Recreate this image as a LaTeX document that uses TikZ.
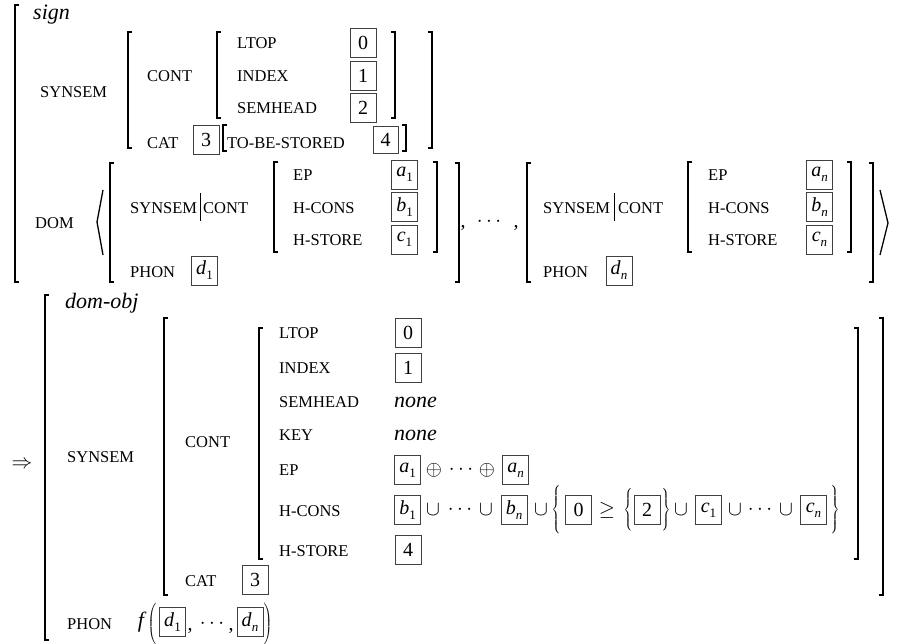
\documentclass[tikz,border=0pt]{standalone}
\usepackage{fontspec}
\setmainfont{Liberation Serif}
\usepackage{graphicx}
\tikzset{
  brk/.style={line width=1.3pt},
  barline/.style={line width=0.8pt},
  lab/.style={anchor=west, inner sep=0pt, font=\fontsize{16.5}{16.5}\selectfont},
  typ/.style={inner sep=0pt, font=\fontsize{22}{22}\selectfont\itshape},
  tag/.style={draw=black!75, line width=0.7pt, minimum width=26pt, minimum height=29pt, inner sep=0pt, font=\fontsize{20}{20}\selectfont},
  sym/.style={inner sep=0pt, font=\fontsize{20}{20}\selectfont},
}
\newcommand\Lbr[3]{\draw[brk] ({#1+4},#2) -- (#1,#2) -- (#1,#3) -- ({#1+4},#3);}
\newcommand\Rbr[3]{\draw[brk] ({#1-4},#2) -- (#1,#2) -- (#1,#3) -- ({#1-4},#3);}
\newcommand\sv[2]{\textit{#1}\raisebox{-0.25em}{\fontsize{13}{13}\selectfont #2}}
\newcommand\dlm[2]{$\nulldelimiterspace=0pt\left#1\vrule height #2 depth #2 width 0pt\right.$}
\begin{document}
\begin{tikzpicture}[x=1pt,y=-1pt]
\useasboundingbox (0,0) rectangle (901,644);
% ================= first AVM (sign) =================
\Lbr{15}{5}{282}
\node[typ, anchor=base west] (sign) at (33,20) {sign};
\node[lab] (ss1) at (40,92) {SYNSEM};
\Lbr{128}{32}{148} \Rbr{432}{32}{148}
\node[lab] (cont1) at (147,76) {CONT};
\Lbr{217}{32}{118} \Rbr{395}{32}{118}
\node[lab] (ltop1) at (237,43) {LTOP};
\node[lab] (index1) at (237,76) {INDEX};
\node[lab] (semh1) at (237,108) {SEMHEAD};
\node[tag] (t0a) at (363,43) {0};
\node[tag] (t1a) at (363,76) {1};
\node[tag] (t2a) at (363,108) {2};
\node[lab] (cat1) at (147,143) {CAT};
\node[tag] (t3a) at (206,140) {3};
\Lbr{223}{125}{151} \Rbr{406}{125}{151}
\node[lab] (tbs) at (227,143) {TO-BE-STORED};
\node[tag, minimum width=25pt, minimum height=27pt] (t4a) at (385.5,140) {4};
% DOM
\node[lab] (dom) at (35,223) {DOM};
\draw[brk] (103,190) -- (97,222) -- (103,255);
\draw[brk] (880,190) -- (888,223) -- (880,255);
% element 1
\Lbr{110}{163}{282} \Rbr{459}{163}{282}
\node[lab] (sc1) at (130,208) {SYNSEM};
\draw[barline] (200,193) -- (200,221);
\node[lab] (sc1b) at (203,208) {CONT};
\node[lab] (phon1) at (130,272) {PHON};
\node[tag] (d1a) at (204.5,270.5) {\sv{d}{1}};
\Lbr{274}{162}{252} \Rbr{437}{162}{252}
\node[lab] (ep1) at (293,175) {EP};
\node[lab] (hc1) at (293,208) {H-CONS};
\node[lab] (hs1) at (293,240) {H-STORE};
\node[tag] (a1a) at (404.5,174.5) {\sv{a}{1}};
\node[tag] (b1a) at (404.5,207) {\sv{b}{1}};
\node[tag] (c1a) at (404.5,239.5) {\sv{c}{1}};
% separator
\node[sym, anchor=base] (cm1) at (463,227) {,};
\node[sym] (dots1) at (489,222) {$\cdots$};
\node[sym, anchor=base] (cm2) at (516,227) {,};
% element n
\Lbr{527}{163}{282} \Rbr{873}{163}{282}
\node[lab] (sc2) at (543,208) {SYNSEM};
\draw[barline] (614,193) -- (614,221);
\node[lab] (sc2b) at (618,208) {CONT};
\node[lab] (phon2) at (543,272) {PHON};
\node[tag] (dna) at (619,270.5) {\sv{d}{\textit{n}}};
\Lbr{688}{162}{252} \Rbr{851}{162}{252}
\node[lab] (ep2) at (708,175) {EP};
\node[lab] (hc2) at (708,208) {H-CONS};
\node[lab] (hs2) at (708,240) {H-STORE};
\node[tag] (ana) at (819.5,174.5) {\sv{a}{\textit{n}}};
\node[tag] (bna) at (819.5,207) {\sv{b}{\textit{n}}};
\node[tag] (cna) at (819.5,239.5) {\sv{c}{\textit{n}}};
% ================= second AVM (dom-obj) =================
\node[sym] (arrow) at (22,465) {$\Rightarrow$};
\Lbr{45}{295}{640}
\node[typ, anchor=base west] (domobj) at (65,308) {dom-obj};
\node[lab] (ss2) at (67,457) {SYNSEM};
\Lbr{164}{318}{595} \Rbr{883}{318}{595}
\node[lab] (cont2) at (185,442) {CONT};
\Lbr{259}{328}{559} \Rbr{858}{328}{559}
\node[lab] (ltop2) at (279,333) {LTOP};
\node[lab] (index2) at (279,368) {INDEX};
\node[lab] (semh2) at (279,402) {SEMHEAD};
\node[lab] (key2) at (279,435) {KEY};
\node[lab] (ep3) at (279,470) {EP};
\node[lab] (hc3) at (279,511) {H-CONS};
\node[lab] (hs3) at (279,551) {H-STORE};
\node[tag] (t0b) at (408,333) {0};
\node[tag] (t1b) at (408,368) {1};
\node[typ, anchor=west] (none1) at (394,402) {none};
\node[typ, anchor=west] (none2) at (394,435) {none};
% EP row
\node[tag] (a1b) at (407.5,470) {\sv{a}{1}};
\node[sym] (op1) at (434,470) {$\oplus$};
\node[sym] (dots2) at (461,470) {$\cdots$};
\node[sym] (op2) at (487,470) {$\oplus$};
\node[tag] (anb) at (515.5,470) {\sv{a}{\textit{n}}};
% H-CONS row
\node[tag] (b1b) at (407.5,510) {\sv{b}{1}};
\node[sym] (u1) at (433,510) {$\cup$};
\node[sym] (dots3) at (460,510) {$\cdots$};
\node[sym] (u2) at (486,510) {$\cup$};
\node[tag] (bnb) at (514,510) {\sv{b}{\textit{n}}};
\node[sym] (u3) at (541,510) {$\cup$};
\node[sym] (lb1) at (556,511) {\scalebox{1}[1.14]{\dlm\{{18pt}}};
\node[tag] (t0c) at (578.5,510) {0};
\node[sym] (geq) at (607,510) {$\geq$};
\node[sym] (lb2) at (628,510) {\scalebox{1}[1.17]{\dlm\{{12pt}}};
\node[tag] (t2c) at (647,510) {2};
\node[sym] (rb2) at (666,510) {\scalebox{1}[1.17]{\dlm\}{12pt}}};
\node[sym] (u4) at (681,510) {$\cup$};
\node[tag] (c1b) at (708.5,510) {\sv{c}{1}};
\node[sym] (u5) at (735,510) {$\cup$};
\node[sym] (dots4) at (760,510) {$\cdots$};
\node[sym] (u6) at (786,510) {$\cup$};
\node[tag] (cnb) at (813.5,510) {\sv{c}{\textit{n}}};
\node[sym] (rb1) at (835,511) {\scalebox{1}[1.14]{\dlm\}{18pt}}};
% H-STORE, CAT
\node[tag] (t4b) at (408,550) {4};
\node[lab] (cat2) at (185,581) {CAT};
\node[tag] (t3b) at (255,580) {3};
% PHON
\node[lab] (phon3) at (67,624) {PHON};
\node[typ] (f) at (141,622) {f};
\node[sym] (lp) at (152,625) {\dlm({18pt}};
\node[tag] (d1b) at (172.5,622) {\sv{d}{1}};
\node[sym, anchor=base] (cm3) at (190,630) {,};
\node[sym] (dots5) at (212,624) {$\cdots$};
\node[sym, anchor=base] (cm4) at (231,630) {,};
\node[tag] (dnb) at (250,622) {\sv{d}{\textit{n}}};
\node[sym] (rp) at (268,625) {\dlm){18pt}};
\end{tikzpicture}
\end{document}
